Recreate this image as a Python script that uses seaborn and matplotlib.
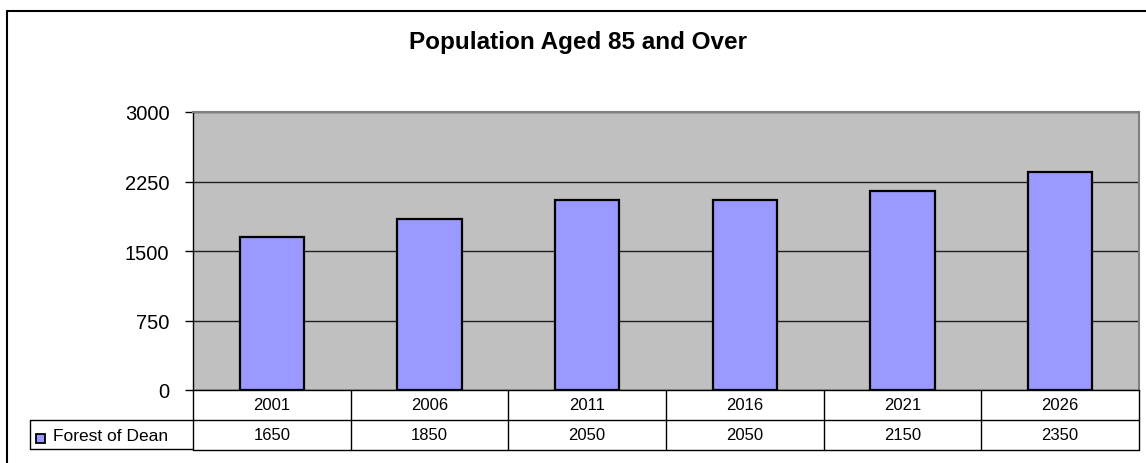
import matplotlib
matplotlib.use("Agg")
import matplotlib.pyplot as plt
import matplotlib.transforms as mtransforms
from matplotlib.patches import Rectangle
import seaborn as sns
import pandas as pd

# Data
years = ["2001", "2006", "2011", "2016", "2021", "2026"]
population = [1650, 1850, 2050, 2050, 2150, 2350]
series_name = "Forest of Dean"
y_ticks = [0, 750, 1500, 2250, 3000]

sns.set_theme(style="white")
plt.rcParams["font.family"] = ["Liberation Sans", "DejaVu Sans"]
plt.rcParams["text.color"] = "black"
plt.rcParams["ytick.color"] = "black"
plt.rcParams["ytick.labelcolor"] = "black"

BAR = "#9999FF"
PLOT_BG = "#C0C0C0"

W, H = 1146, 464
fig = plt.figure(figsize=(W / 100, H / 100), dpi=100)
fig.patch.set_facecolor("white")

# Axes placement in pixel terms
left, right, top, bottom = 193, 1139, 113, 391
ax = fig.add_axes([left / W, 1 - bottom / H, (right - left) / W, (bottom - top) / H])
ax.set_facecolor(PLOT_BG)

df = pd.DataFrame({"year": years, "value": population})
sns.barplot(data=df, x="year", y="value", color=BAR, width=0.41,
            edgecolor="black", linewidth=1.6, saturation=1, ax=ax, zorder=3)

ax.set_ylim(0, 3000)
ax.set_xlim(-0.5, len(years) - 0.5)
ax.set_yticks(y_ticks)
ax.set_yticklabels([str(t) for t in y_ticks], fontsize=14.5, color="black")
ax.set_xticks([])
ax.set_xlabel("")
ax.set_ylabel("")
ax.yaxis.grid(True, color="#202020", linewidth=1.0, zorder=0)
ax.set_axisbelow(True)
ax.tick_params(axis="y", which="both", left=True, length=6, width=1, color="black", pad=11)

for side in ["top", "right"]:
    ax.spines[side].set_color("#808080")
    ax.spines[side].set_linewidth(1.5)
ax.spines["left"].set_color("black")
ax.spines["left"].set_linewidth(1.0)
ax.spines["bottom"].set_color("black")
ax.spines["bottom"].set_linewidth(1.0)

# Title
fig.text(0.5045, 1 - 49 / H, "Population Aged 85 and Over", ha="center", va="baseline",
         fontsize=17.5, fontweight="bold", color="black")

# Data table below the axes
row_h = 30 / (bottom - top)
trans = mtransforms.blended_transform_factory(ax.transData, ax.transAxes)
line_kw = dict(color="black", linewidth=1.0, clip_on=False)

n = len(years)
# horizontal lines
ax.plot([-0.5, n - 0.5], [-row_h, -row_h], transform=trans, **line_kw)
ax.plot([-0.5, n - 0.5], [-2 * row_h, -2 * row_h], transform=trans, **line_kw)
# vertical lines across both rows
for b in range(n + 1):
    ax.plot([b - 0.5, b - 0.5], [0, -2 * row_h], transform=trans, **line_kw)

# legend cell on the left
fig_line = dict(color="black", linewidth=1.0)
y1 = 1 - 421 / H
y2 = 1 - 450 / H
x0 = 30 / W
x1 = left / W
fig.add_artist(plt.Line2D([x0, x1], [y1, y1], transform=fig.transFigure, **fig_line))
fig.add_artist(plt.Line2D([x0, x1], [y2, y2], transform=fig.transFigure, **fig_line))
fig.add_artist(plt.Line2D([x0, x0], [y1, y2], transform=fig.transFigure, **fig_line))
fig.add_artist(Rectangle((36 / W, 1 - 444 / H), 9 / W, 9 / H, transform=fig.transFigure,
                         facecolor=BAR, edgecolor="black", linewidth=1.3))
fig.text(53 / W, (y1 + y2) / 2 - 0.002, series_name, ha="left", va="center", fontsize=12.5)

for i, (yr, v) in enumerate(zip(years, population)):
    ax.text(i, -row_h / 2, yr, transform=trans, ha="center", va="center", fontsize=12)
    ax.text(i, -1.5 * row_h, str(v), transform=trans, ha="center", va="center", fontsize=12)

# Chart area border (left and top visible)
fig.add_artist(plt.Line2D([7 / W, 7 / W], [0, 1 - 12 / H], transform=fig.transFigure,
                          color="black", linewidth=1.5))
fig.add_artist(plt.Line2D([7 / W, 1], [1 - 12 / H, 1 - 12 / H], transform=fig.transFigure,
                          color="black", linewidth=1.5))

fig.savefig("out.png", dpi=100)
